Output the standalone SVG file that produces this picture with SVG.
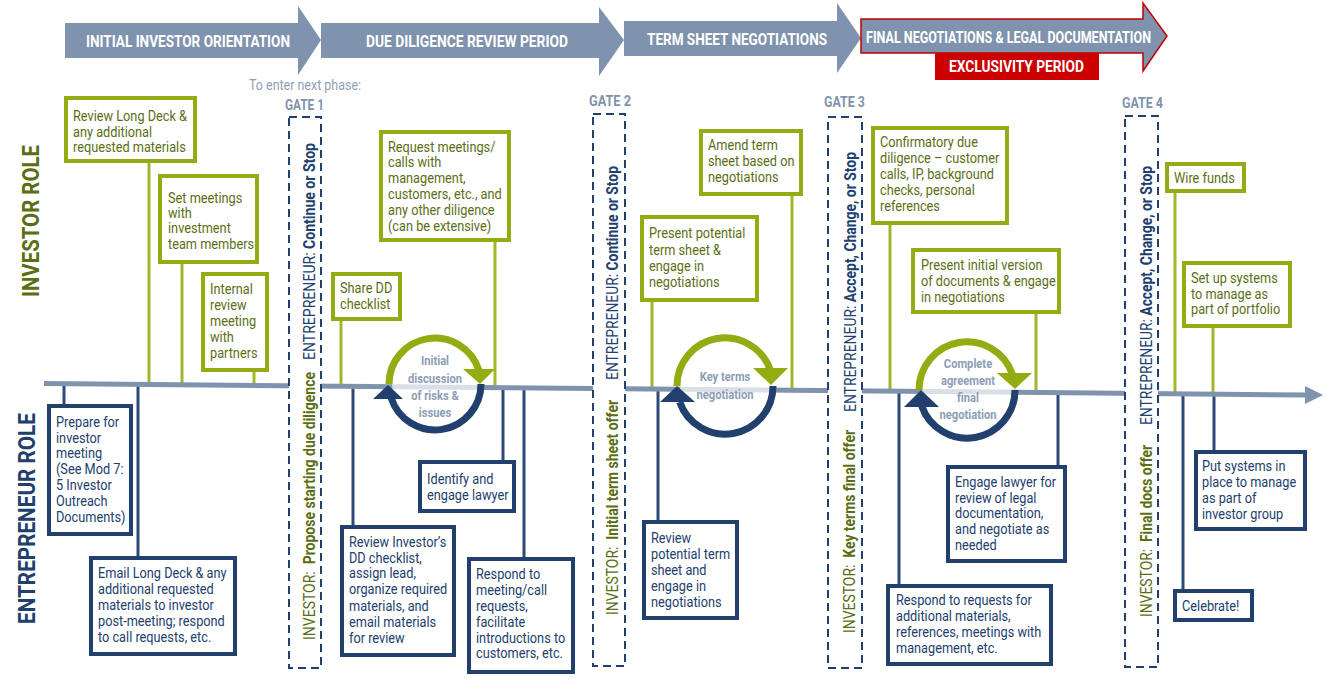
<svg xmlns="http://www.w3.org/2000/svg" width="1327" height="679" viewBox="0 0 1327 679">
<style>
text{font-family:Roboto,"Liberation Sans",sans-serif}
.arw{fill:#7f93ae}
.hd{font-size:17px;font-weight:bold;fill:#fff}
.gate{fill:#fff;stroke:#21406e;stroke-width:2;stroke-dasharray:8 5}
.glbl{font-size:14px;font-weight:bold;fill:#7f93ae}
.vt{font-size:16px}
.vn{fill:#21406e}
.vg{fill:#5b6e14}
.b{font-weight:bold}
.gb{fill:#fff;stroke:#95ab12;stroke-width:4}
.nb{fill:#fff;stroke:#21406e;stroke-width:4}
.gt{font-size:14px;fill:#5b6e14}
.nt{font-size:14px;fill:#21406e}
.gs{stroke:#a2b62c;stroke-width:3;fill:none}
.ns{stroke:#2b4a78;stroke-width:3;fill:none}
.arcg{fill:none;stroke:#95ab12;stroke-width:7}
.arcn{fill:none;stroke:#21406e;stroke-width:7}
.ct{font-size:13px;font-weight:bold;fill:#8c9db6;text-anchor:middle}
.role{font-size:24px;font-weight:bold}
</style>

<g id="phases">
<polygon class="arw" points="65,23 298,23 298,6 321,40 298,75 298,58 65,58"/>
<polygon class="arw" points="321,23 599,23 599,7 624,40 599,76 599,58 321,58"/>
<polygon class="arw" points="624,21 837,21 837,3 861,38 837,73 837,56 624,56"/>
<polygon class="arw" points="861,19 1143,19 1143,3 1167,36 1143,71 1143,53 861,53" stroke="#c00000" stroke-width="1.5"/>
<rect x="935" y="53" width="164" height="27" fill="#cc0000"/>
<text class="hd" x="86" y="47" textLength="204" lengthAdjust="spacingAndGlyphs">INITIAL INVESTOR ORIENTATION</text>
<text class="hd" x="366" y="47" textLength="202" lengthAdjust="spacingAndGlyphs">DUE DILIGENCE REVIEW PERIOD</text>
<text class="hd" x="647" y="45" textLength="180" lengthAdjust="spacingAndGlyphs">TERM SHEET NEGOTIATIONS</text>
<text class="hd" x="866" y="43" font-size="16" textLength="285" lengthAdjust="spacingAndGlyphs">FINAL NEGOTIATIONS &amp; LEGAL DOCUMENTATION</text>
<text class="hd" x="949" y="72" font-size="16" textLength="135" lengthAdjust="spacingAndGlyphs">EXCLUSIVITY PERIOD</text>
</g>

<g id="roles">
<text class="role vg" transform="translate(39 297) rotate(-90)" textLength="152" lengthAdjust="spacingAndGlyphs">INVESTOR ROLE</text>
<text class="role vn" transform="translate(35 624) rotate(-90)" textLength="211" lengthAdjust="spacingAndGlyphs">ENTREPRENEUR ROLE</text>
</g>

<g id="connectors">
<line class="gs" x1="149" y1="163" x2="149" y2="384"/>
<line class="gs" x1="182" y1="264" x2="182" y2="384"/>
<line class="gs" x1="254" y1="372" x2="254" y2="385"/>
<line class="gs" x1="341" y1="321" x2="341" y2="386"/>
<line class="gs" x1="495" y1="242" x2="495" y2="388"/>
<line class="gs" x1="652" y1="302" x2="652" y2="389"/>
<line class="gs" x1="792" y1="196" x2="792" y2="390"/>
<line class="gs" x1="890" y1="225" x2="890" y2="391"/>
<line class="gs" x1="1036" y1="314" x2="1036" y2="393"/>
<line class="gs" x1="1175" y1="193" x2="1175" y2="394"/>
<line class="gs" x1="1213" y1="328" x2="1213" y2="394"/>
<line class="ns" x1="64" y1="384" x2="64" y2="404"/>
<line class="ns" x1="138" y1="384" x2="138" y2="556"/>
<line class="ns" x1="353" y1="386" x2="353" y2="525"/>
<line class="ns" x1="503" y1="387" x2="503" y2="460"/>
<line class="ns" x1="524" y1="388" x2="524" y2="557"/>
<line class="ns" x1="658" y1="389" x2="658" y2="520"/>
<line class="ns" x1="899" y1="391" x2="899" y2="584"/>
<line class="ns" x1="1058" y1="392" x2="1058" y2="465"/>
<line class="ns" x1="1183" y1="394" x2="1183" y2="589"/>
<line class="ns" x1="1214" y1="394" x2="1214" y2="450"/>
<line x1="44" y1="383.5" x2="1308" y2="395" stroke="#7f93ae" stroke-width="5"/>
<polygon points="1305,386 1323,395 1305,404" fill="#7f93ae"/>
</g>

<g id="gate-intro">
<text x="249" y="90" font-size="14" fill="#8fa0b8" textLength="112" lengthAdjust="spacingAndGlyphs">To enter next phase:</text>
</g>

<g id="gate1">
<text class="glbl" x="285" y="110" textLength="39" lengthAdjust="spacingAndGlyphs">GATE 1</text>
<rect class="gate" x="289" y="117" width="32" height="551"/>
<text class="vt vn" transform="translate(315 360) rotate(-90)" textLength="217" lengthAdjust="spacingAndGlyphs">ENTREPRENEUR: <tspan class="b">Continue or Stop</tspan></text>
<text class="vt vg" transform="translate(315 640) rotate(-90)" textLength="268" lengthAdjust="spacingAndGlyphs">INVESTOR: <tspan class="b" dx="4">Propose starting due diligence</tspan></text>
</g>
<g id="gate2">
<text class="glbl" x="589" y="106" textLength="42" lengthAdjust="spacingAndGlyphs">GATE 2</text>
<rect class="gate" x="593" y="114" width="32" height="552"/>
<text class="vt vn" transform="translate(618 380) rotate(-90)" textLength="214" lengthAdjust="spacingAndGlyphs">ENTREPRENEUR: <tspan class="b">Continue or Stop</tspan></text>
<text class="vt vg" transform="translate(618 615) rotate(-90)" textLength="215" lengthAdjust="spacingAndGlyphs">INVESTOR: <tspan class="b" dx="4">Initial term sheet offer</tspan></text>
</g>
<g id="gate3">
<text class="glbl" x="824" y="107" textLength="41" lengthAdjust="spacingAndGlyphs">GATE 3</text>
<rect class="gate" x="828" y="117" width="34" height="551"/>
<text class="vt vn" transform="translate(856 412) rotate(-90)" textLength="260" lengthAdjust="spacingAndGlyphs">ENTREPRENEUR: <tspan class="b">Accept, Change, or Stop</tspan></text>
<text class="vt vg" transform="translate(855 633) rotate(-90)" textLength="203" lengthAdjust="spacingAndGlyphs">INVESTOR: <tspan class="b" dx="4">Key terms final offer</tspan></text>
</g>
<g id="gate4">
<text class="glbl" x="1122" y="108" textLength="41" lengthAdjust="spacingAndGlyphs">GATE 4</text>
<rect class="gate" x="1125" y="116" width="33" height="551"/>
<text class="vt vn" transform="translate(1152 425) rotate(-90)" textLength="259" lengthAdjust="spacingAndGlyphs">ENTREPRENEUR: <tspan class="b">Accept, Change, or Stop</tspan></text>
<text class="vt vg" transform="translate(1152 617) rotate(-90)" textLength="172" lengthAdjust="spacingAndGlyphs">INVESTOR: <tspan class="b" dx="4">Final docs offer</tspan></text>
</g>

<g id="cycle1">
<circle cx="435" cy="384" r="43" fill="#fff" opacity="0.7"/>
<path class="arcg" d="M389,384 A46,46 0 0 1 478.8,370"/>
<polygon points="463,369 495,369 480,384" fill="#95ab12"/>
<path class="arcn" d="M481,384 A46,46 0 0 1 391.2,398"/>
<polygon points="373,399 403,399 388,385" fill="#21406e"/>
<text class="ct" transform="translate(435 0) scale(.86 1)"><tspan x="0" y="365">Initial</tspan><tspan x="0" y="383">discussion</tspan><tspan x="0" y="400">of risks &amp;</tspan><tspan x="0" y="417">issues</tspan></text>
</g>
<g id="cycle2">
<circle cx="725" cy="386" r="45" fill="#fff" opacity="0.7"/>
<path class="arcg" d="M677,386 A48,48 0 0 1 770.3,370"/>
<polygon points="753,368 788,368 771,385" fill="#95ab12"/>
<path class="arcn" d="M773,386 A48,48 0 0 1 679.7,402"/>
<polygon points="660,402 695,402 677,386" fill="#21406e"/>
<text class="ct" transform="translate(725 0) scale(.86 1)"><tspan x="0" y="381">Key terms</tspan><tspan x="0" y="399">negotiation</tspan></text>
</g>
<g id="cycle3">
<circle cx="967" cy="390" r="45" fill="#fff" opacity="0.7"/>
<path class="arcg" d="M919,390 A48,48 0 0 1 1012.3,374"/>
<polygon points="997,373 1032,373 1015,389" fill="#95ab12"/>
<path class="arcn" d="M1015,390 A48,48 0 0 1 921.7,406"/>
<polygon points="904,407 939,407 921,390" fill="#21406e"/>
<text class="ct" transform="translate(968 0) scale(.86 1)"><tspan x="0" y="368">Complete</tspan><tspan x="0" y="385">agreement</tspan><tspan x="0" y="402">final</tspan><tspan x="0" y="419">negotiation</tspan></text>
</g>

<g id="inv1"><rect class="gb" x="66" y="98" width="129" height="63"/>
<text class="gt" transform="translate(73 0) scale(.91 1)"><tspan x="0" y="121">Review Long Deck &amp;</tspan><tspan x="0" y="137">any additional</tspan><tspan x="0" y="152">requested materials</tspan></text></g>
<g id="inv2"><rect class="gb" x="160" y="176" width="97" height="86"/>
<text class="gt" transform="translate(168 0) scale(.91 1)"><tspan x="0" y="203">Set meetings</tspan><tspan x="0" y="218">with</tspan><tspan x="0" y="233">investment</tspan><tspan x="0" y="249">team members</tspan></text></g>
<g id="inv3"><rect class="gb" x="203" y="274" width="64" height="96"/>
<text class="gt" transform="translate(210 0) scale(.91 1)"><tspan x="0" y="294">Internal</tspan><tspan x="0" y="310">review</tspan><tspan x="0" y="326">meeting</tspan><tspan x="0" y="342">with</tspan><tspan x="0" y="358">partners</tspan></text></g>
<g id="inv4"><rect class="gb" x="333" y="274" width="67" height="45"/>
<text class="gt" transform="translate(340 0) scale(.91 1)"><tspan x="0" y="293">Share DD</tspan><tspan x="0" y="309">checklist</tspan></text></g>
<g id="inv5"><rect class="gb" x="381" y="132" width="128" height="108"/>
<text class="gt" transform="translate(388 0) scale(.91 1)"><tspan x="0" y="152">Request meetings/</tspan><tspan x="0" y="167">calls with</tspan><tspan x="0" y="183">management,</tspan><tspan x="0" y="199">customers, etc., and</tspan><tspan x="0" y="215">any other diligence</tspan><tspan x="0" y="231">(can be extensive)</tspan></text></g>
<g id="inv6"><rect class="gb" x="642" y="217" width="115" height="83"/>
<text class="gt" transform="translate(649 0) scale(.91 1)"><tspan x="0" y="238">Present potential</tspan><tspan x="0" y="255">term sheet &amp;</tspan><tspan x="0" y="271">engage in</tspan><tspan x="0" y="287">negotiations</tspan></text></g>
<g id="inv7"><rect class="gb" x="701" y="131" width="100" height="63"/>
<text class="gt" transform="translate(708 0) scale(.91 1)"><tspan x="0" y="150">Amend term</tspan><tspan x="0" y="166">sheet based on</tspan><tspan x="0" y="182">negotiations</tspan></text></g>
<g id="inv8"><rect class="gb" x="873" y="128" width="134" height="95"/>
<text class="gt" transform="translate(880 0) scale(.91 1)"><tspan x="0" y="147">Confirmatory due</tspan><tspan x="0" y="163">diligence – customer</tspan><tspan x="0" y="179">calls, IP, background</tspan><tspan x="0" y="195">checks, personal</tspan><tspan x="0" y="211">references</tspan></text></g>
<g id="inv9"><rect class="gb" x="913" y="250" width="146" height="62"/>
<text class="gt" transform="translate(921 0) scale(.91 1)"><tspan x="0" y="270">Present initial version</tspan><tspan x="0" y="286">of documents &amp; engage</tspan><tspan x="0" y="302">in negotiations</tspan></text></g>
<g id="inv10"><rect class="gb" x="1167" y="164" width="77" height="27"/>
<text class="gt" transform="translate(1174 0) scale(.91 1)"><tspan x="0" y="183">Wire funds</tspan></text></g>
<g id="inv11"><rect class="gb" x="1184" y="263" width="106" height="63"/>
<text class="gt" transform="translate(1191 0) scale(.91 1)"><tspan x="0" y="283">Set up systems</tspan><tspan x="0" y="299">to manage as</tspan><tspan x="0" y="314">part of portfolio</tspan></text></g>

<g id="ent1"><rect class="nb" x="49" y="406" width="82" height="128"/>
<text class="nt" transform="translate(56 0) scale(.91 1)"><tspan x="0" y="427">Prepare for</tspan><tspan x="0" y="443">investor</tspan><tspan x="0" y="458">meeting</tspan><tspan x="0" y="474">(See Mod 7:</tspan><tspan x="0" y="490">5 Investor</tspan><tspan x="0" y="506">Outreach</tspan><tspan x="0" y="522">Documents)</tspan></text></g>
<g id="ent2"><rect class="nb" x="91" y="558" width="144" height="96"/>
<text class="nt" transform="translate(98 0) scale(.91 1)"><tspan x="0" y="578">Email Long Deck &amp; any</tspan><tspan x="0" y="594">additional requested</tspan><tspan x="0" y="610">materials to investor</tspan><tspan x="0" y="626">post-meeting; respond</tspan><tspan x="0" y="642">to call requests, etc.</tspan></text></g>
<g id="ent3"><rect class="nb" x="342" y="527" width="112" height="128"/>
<text class="nt" transform="translate(349 0) scale(.91 1)"><tspan x="0" y="547">Review Investor’s</tspan><tspan x="0" y="563">DD checklist,</tspan><tspan x="0" y="578">assign lead,</tspan><tspan x="0" y="594">organize required</tspan><tspan x="0" y="611">materials, and</tspan><tspan x="0" y="627">email materials</tspan><tspan x="0" y="643">for review</tspan></text></g>
<g id="ent4"><rect class="nb" x="420" y="462" width="94" height="49"/>
<text class="nt" transform="translate(427 0) scale(.91 1)"><tspan x="0" y="484">Identify and</tspan><tspan x="0" y="500">engage lawyer</tspan></text></g>
<g id="ent5"><rect class="nb" x="469" y="559" width="104" height="113"/>
<text class="nt" transform="translate(476 0) scale(.91 1)"><tspan x="0" y="579">Respond to</tspan><tspan x="0" y="595">meeting/call</tspan><tspan x="0" y="611">requests,</tspan><tspan x="0" y="627">facilitate</tspan><tspan x="0" y="643">introductions to</tspan><tspan x="0" y="658">customers, etc.</tspan></text></g>
<g id="ent6"><rect class="nb" x="644" y="522" width="93" height="96"/>
<text class="nt" transform="translate(651 0) scale(.91 1)"><tspan x="0" y="543">Review</tspan><tspan x="0" y="559">potential term</tspan><tspan x="0" y="575">sheet and</tspan><tspan x="0" y="591">engage in</tspan><tspan x="0" y="607">negotiations</tspan></text></g>
<g id="ent7"><rect class="nb" x="888" y="586" width="163" height="78"/>
<text class="nt" transform="translate(896 0) scale(.91 1)"><tspan x="0" y="605">Respond to requests for</tspan><tspan x="0" y="621">additional materials,</tspan><tspan x="0" y="637">references, meetings with</tspan><tspan x="0" y="653">management, etc.</tspan></text></g>
<g id="ent8"><rect class="nb" x="948" y="467" width="117" height="94"/>
<text class="nt" transform="translate(955 0) scale(.91 1)"><tspan x="0" y="487">Engage lawyer for</tspan><tspan x="0" y="503">review of legal</tspan><tspan x="0" y="518">documentation,</tspan><tspan x="0" y="534">and negotiate as</tspan><tspan x="0" y="550">needed</tspan></text></g>
<g id="ent9"><rect class="nb" x="1196" y="452" width="109" height="77"/>
<text class="nt" transform="translate(1202 0) scale(.91 1)"><tspan x="0" y="471">Put systems in</tspan><tspan x="0" y="487">place to manage</tspan><tspan x="0" y="503">as part of</tspan><tspan x="0" y="519">investor group</tspan></text></g>
<g id="ent10"><rect class="nb" x="1175" y="591" width="77" height="29"/>
<text class="nt" transform="translate(1182 0) scale(.91 1)"><tspan x="0" y="611">Celebrate!</tspan></text></g>
</svg>
